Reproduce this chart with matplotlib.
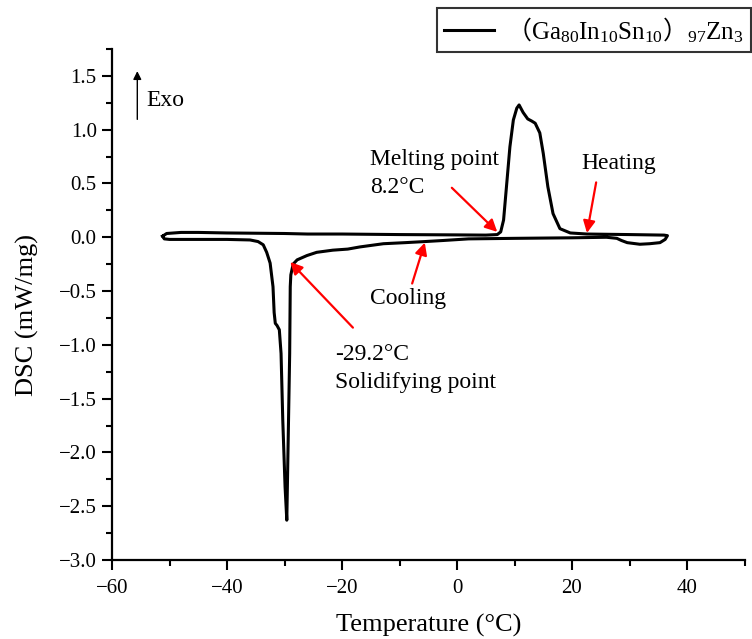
import matplotlib
matplotlib.use("Agg")
import matplotlib.pyplot as plt
from matplotlib.ticker import MultipleLocator, FuncFormatter

plt.rcParams['font.family'] = ['Liberation Serif', 'Noto Sans CJK SC']
plt.rcParams['mathtext.fontset'] = 'custom'
plt.rcParams['mathtext.rm'] = 'Liberation Serif'
plt.rcParams['mathtext.it'] = 'Liberation Serif:italic'
plt.rcParams['mathtext.sf'] = 'Noto Sans CJK SC'

# ── data ────────────────────────────────────────────────────────────────── #
# heating run (upper trace), T in degC, DSC in mW/mg
heat_T = [-51.2, -50.5, -48.0, -45.0, -40.0, -30.0, -26.0, -20.0, -10.0, 0.0,
          5.0, 7.0, 7.6, 8.1, 8.7, 9.2, 9.8, 10.4, 10.8, 11.5, 12.3, 13.0,
          13.6, 14.4, 15.0, 15.8, 16.7, 17.9, 19.7, 22.6, 30.0, 36.0, 36.6]
heat_dsc = [0.01, 0.035, 0.045, 0.045, 0.04, 0.035, 0.03, 0.03, 0.025, 0.022,
            0.02, 0.025, 0.05, 0.16, 0.53, 0.84, 1.09, 1.20, 1.23, 1.16, 1.10,
            1.08, 1.06, 0.97, 0.78, 0.47, 0.22, 0.08, 0.04, 0.03, 0.025, 0.02,
            0.015]

# cooling run (lower trace), from the hot end back to the cold end
cool_T = [36.6, 36.2, 35.3, 33.5, 31.8, 29.6, 28.6, 27.8, 26.0, 20.0, 10.0,
          2.0, -2.4, -5.6, -9.0, -12.8, -16.9, -19.0, -21.6, -24.4, -26.1,
          -27.8, -28.5, -28.9, -29.0, -29.1, -29.3, -29.5, -29.6, -29.9, -30.3,
          -30.6, -30.9, -31.3, -31.6, -31.8, -32.0, -32.5, -33.1, -33.7, -34.6,
          -36.0, -40.0, -45.0, -50.0, -50.9, -51.2]
cool_dsc = [0.015, -0.02, -0.05, -0.06, -0.065, -0.05, -0.03, -0.01, 0.0,
            -0.005, -0.01, -0.015, -0.03, -0.04, -0.05, -0.06, -0.09, -0.11,
            -0.12, -0.14, -0.17, -0.21, -0.25, -0.35, -0.46, -1.08, -1.70,
            -2.32, -2.63, -2.32, -1.70, -1.08, -0.86, -0.82, -0.80, -0.70,
            -0.46, -0.24, -0.14, -0.07, -0.04, -0.025, -0.02, -0.02, -0.02,
            -0.015, 0.01]

label = (r"$\mathsf{（}\mathrm{Ga_{80}In_{10}Sn_{10}}\mathsf{）}"
         r"_{\mathrm{97}}\mathrm{Zn_{3}}$")


def fmt_y(v, pos):
    s = f"{v:.1f}"
    if s == "-0.0":
        s = "0.0"
    return s.replace("-", "\u2212")


fig = plt.figure(figsize=(7.52, 6.39), dpi=100)
ax = fig.add_axes([112 / 752, 79 / 639, 632.5 / 752, 511 / 639])

ax.plot(heat_T + cool_T, heat_dsc + cool_dsc, color="black", lw=2.2,
        label=label, solid_joinstyle="round")

ax.set_xlim(-60, 50)
ax.set_ylim(-3.0, 1.75)
ax.xaxis.set_major_locator(MultipleLocator(20))
ax.xaxis.set_minor_locator(MultipleLocator(10))
ax.set_yticks([-3.0, -2.5, -2.0, -1.5, -1.0, -0.5, 0.0, 0.5, 1.0, 1.5])
ax.yaxis.set_minor_locator(MultipleLocator(0.25))
ax.yaxis.set_major_formatter(FuncFormatter(fmt_y))
ax.tick_params(which="major", direction="out", length=7, width=1.5,
               labelsize=15)
ax.tick_params(axis="x", which="major", pad=7)
ax.tick_params(axis="y", which="major", pad=4)
ax.tick_params(which="minor", direction="out", length=4, width=1.5)
for side in ("top", "right"):
    ax.spines[side].set_visible(False)
for side in ("left", "bottom"):
    ax.spines[side].set_linewidth(1.6)

ax.set_xlabel("Temperature (°C)", fontsize=19, labelpad=11)
ax.set_ylabel("DSC (mW/mg)", fontsize=19, labelpad=14)
ax.yaxis.label.set_y(0.48)

# exo direction arrow
ax.annotate("", xy=(-55.6, 1.57), xytext=(-55.6, 1.07),
            arrowprops=dict(arrowstyle="-|>", color="black", lw=1.0,
                            mutation_scale=12))
ax.text(-54.0, 1.27, "Exo", fontsize=17, va="center", ha="left")

red = dict(arrowstyle="-|>", color="red", lw=1.6, mutation_scale=18,
           shrinkA=0, shrinkB=0)
ax.annotate("", xy=(7.0, 0.05), xytext=(-0.9, 0.46), arrowprops=red)
ax.text(-15.1, 0.59, "Melting point\n8.2°C", fontsize=17, va="center",
        ha="left", linespacing=1.45)
ax.annotate("", xy=(22.6, 0.04), xytext=(24.2, 0.51), arrowprops=red)
ax.text(21.7, 0.69, "Heating", fontsize=17, va="center", ha="left")
ax.annotate("", xy=(-5.6, -0.05), xytext=(-7.8, -0.43), arrowprops=red)
ax.text(-15.1, -0.57, "Cooling", fontsize=17, va="center", ha="left")
ax.annotate("", xy=(-29.0, -0.23), xytext=(-18.1, -0.84), arrowprops=red)
ax.text(-21.2, -1.22, "-29.2°C\nSolidifying point", fontsize=17,
        va="center", ha="left", linespacing=1.45)

leg = ax.legend(loc="upper left", bbox_to_anchor=(437 / 752, 1 - 8 / 639),
                bbox_transform=fig.transFigure, fontsize=18, frameon=True,
                fancybox=False, edgecolor="black", handlelength=2.0,
                handletextpad=0.5, borderpad=0.28, borderaxespad=0)
leg.get_frame().set_linewidth(1.5)

fig.savefig("out.png", dpi=100)
